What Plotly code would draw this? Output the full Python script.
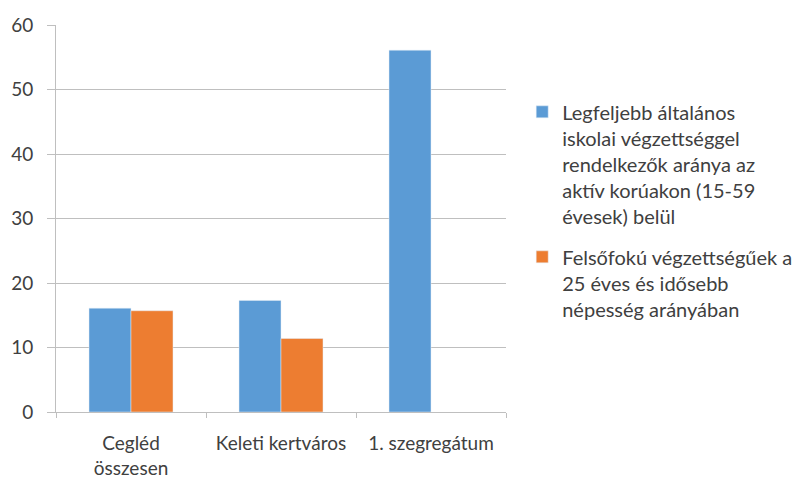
import plotly.graph_objects as go

categories = ["Cegléd<br>összesen", "Keleti kertváros", "1. szegregátum"]
series1_name = "Legfeljebb általános<br>iskolai végzettséggel<br>rendelkezők aránya az<br>aktív korúakon (15-59<br>évesek) belül"
series1_values = [16.1, 17.3, 56.1]
series2_name = "Felsőfokú végzettségűek a<br>25 éves és idősebb<br>népesség arányában"
series2_values = [15.7, 11.4, None]
y_ticks = [0, 10, 20, 30, 40, 50, 60]

FONT = "Lato, Carlito, Open Sans, sans-serif"
TXT = "#404040"

fig = go.Figure()
fig.add_trace(go.Bar(x=categories, y=series1_values, name=series1_name,
                     marker_color="#5B9BD5", legendgroup="a"))
fig.add_trace(go.Bar(x=categories, y=series2_values, name=series2_name,
                     marker_color="#ED7D31", legendgroup="b"))

fig.update_layout(
    width=810, height=478,
    margin=dict(l=48, r=312, t=17, b=74, autoexpand=False),
    paper_bgcolor="white", plot_bgcolor="white",
    barmode="group", bargap=0.44, bargroupgap=0,
    font=dict(family=FONT, size=19, color=TXT),
    showlegend=True,
    legend=dict(x=1.036, y=0.826, xanchor="left", yanchor="top",
                valign="top", tracegroupgap=12,
                font=dict(family=FONT, size=20, color=TXT)),
    xaxis=dict(showline=True, linecolor="#BFBFBF", linewidth=1,
               ticks="outside", tickson="boundaries", ticklen=5,
               tickcolor="#BFBFBF", showgrid=False, ticklabelstandoff=14,
               tickfont=dict(family=FONT, size=19, color=TXT)),
    yaxis=dict(range=[0, 60], tickvals=y_ticks, showline=True,
               linecolor="#BFBFBF", linewidth=1, ticks="outside",
               ticklen=8, tickcolor="#BFBFBF", showgrid=True,
               gridcolor="#BFBFBF", gridwidth=1, zeroline=False,
               ticklabelstandoff=10,
               tickfont=dict(family=FONT, size=19, color=TXT)),
)

fig.write_html("out.html")
